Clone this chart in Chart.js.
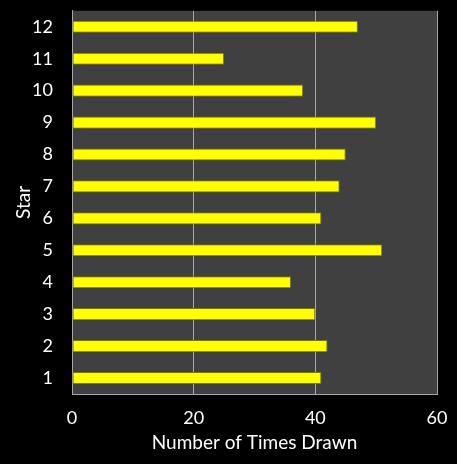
<!DOCTYPE html>
<html>
<head>
<meta charset="utf-8">
<script src="https://cdn.jsdelivr.net/npm/chart.js@4"></script>
<style>
  html, body { margin: 0; padding: 0; background: #000; }
  #wrap { width: 457px; height: 464px; }
</style>
</head>
<body>
<div id="wrap"><canvas id="starChart"></canvas></div>
<script>
  // stars 1..12, times each was drawn
  const stars = ["1", "2", "3", "4", "5", "6", "7", "8", "9", "10", "11", "12"];
  const timesDrawn = [41, 42, 40, 36, 51, 41, 44, 45, 50, 38, 25, 47];
  const xTicks = [0, 20, 40, 60];

  const tickFont = { family: "Lato, 'Open Sans', sans-serif", size: 18 };
  const titleFont = { family: "Lato, 'Open Sans', sans-serif", size: 19 };

  const plotBg = {
    id: "plotBg",
    beforeDraw(chart) {
      const { ctx, chartArea: a } = chart;
      ctx.save();
      ctx.fillStyle = "#000";
      ctx.fillRect(0, 0, chart.width, chart.height);
      ctx.fillStyle = "#404040";
      ctx.fillRect(a.left, a.top, a.right - a.left, a.bottom - a.top);
      ctx.restore();
    },
  };

  const ctx = document.getElementById("starChart").getContext("2d");
  const chart = new Chart(ctx, {
    type: "bar",
    data: {
      labels: stars,
      datasets: [
        {
          label: "Number of Times Drawn",
          data: timesDrawn,
          backgroundColor: "#ffff00",
          borderColor: "#77770c",
          borderWidth: 1,
          borderSkipped: false,
          barPercentage: 0.38,
          categoryPercentage: 1,
        },
      ],
    },
    options: {
      indexAxis: "y",
      responsive: true,
      maintainAspectRatio: false,
      animation: false,
      layout: { padding: { top: 10, right: 20, left: 0, bottom: 0 } },
      plugins: {
        legend: { display: false },
        tooltip: { enabled: false },
      },
      scales: {
        x: {
          min: 0,
          max: 60,
          afterBuildTicks: (axis) => {
            axis.ticks = xTicks.map((v) => ({ value: v }));
          },
          afterFit: (axis) => { axis.height = 70; },
          grid: {
            color: "#a8a8a8",
            lineWidth: 1,
            drawTicks: true,
            tickLength: 13,
            tickColor: "rgba(0,0,0,0)",
          },
          border: { display: true, color: "#a8a8a8", width: 1 },
          ticks: { color: "#fff", font: tickFont, padding: 0 },
          title: {
            display: true,
            text: "Number of Times Drawn",
            color: "#fff",
            font: titleFont,
            padding: { top: 0, bottom: 10 },
          },
        },
        y: {
          reverse: true,
          afterFit: (axis) => { axis.width = 72; },
          grid: {
            display: true,
            drawOnChartArea: false,
            drawTicks: true,
            tickLength: 19,
            tickColor: "rgba(0,0,0,0)",
          },
          border: { display: true, color: "#a8a8a8", width: 1 },
          ticks: { color: "#fff", font: tickFont, padding: 0 },
          title: {
            display: true,
            text: "Star",
            color: "#fff",
            font: titleFont,
            padding: { top: 12, bottom: 0 },
          },
        },
      },
    },
    plugins: [plotBg],
  });
</script>
</body>
</html>
